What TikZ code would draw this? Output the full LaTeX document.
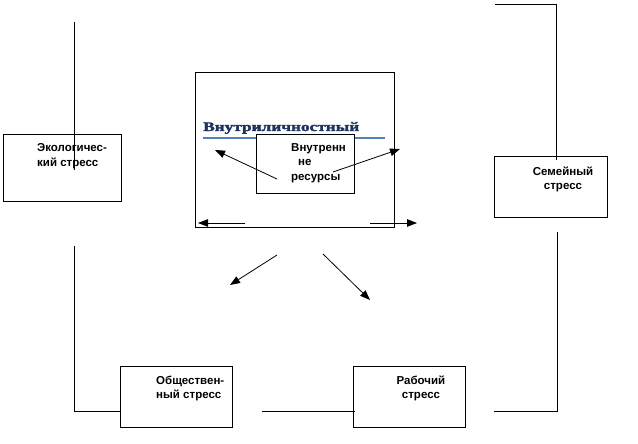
\documentclass[tikz,border=0pt]{standalone}
\usepackage{fontspec}
\setmainfont{Liberation Sans}
\newfontfamily\titlefont[BoldFeatures={FakeBold=2}]{Liberation Serif}
\usetikzlibrary{arrows.meta}
\definecolor{titleblue}{RGB}{30,50,95}
\definecolor{ulblue}{RGB}{79,129,189}
\begin{document}
\begin{tikzpicture}[x=1pt,y=-1pt,
  box/.style={draw=black,line width=0.8pt,fill=white,inner sep=0pt},
  lbl/.style={font=\bfseries\fontsize{11.5}{14.5}\selectfont,inner sep=0pt},
  conn/.style={draw=black,line width=0.8pt},
  arr/.style={draw=black,line width=0.8pt,-{Triangle[length=10pt,width=7.5pt]}}]
\useasboundingbox[fill=white] (0,0) rectangle (638,444);

% main box
\node[box,minimum width=199pt,minimum height=155pt] (main) at (294.5,149.5) {};
\node[anchor=base west,inner sep=0pt,text=titleblue] (title) at (203,131)
  {\titlefont\bfseries\fontsize{13}{15}\selectfont\scalebox{1.33}[1]{Внутриличностный}};
\coordinate (ulA) at (203,138);
\coordinate (ulB) at (385,138);
\draw[draw=ulblue,line width=1.6pt] (ulA) -- (ulB);

% inner box
\node[box,minimum width=98pt,minimum height=59pt] (inner) at (305,163.5) {};
\node[lbl,align=left,anchor=west] (innerlbl) at (291,163) {Внутренн\\\hspace*{7pt}не\\ресурсы};

% side boxes
\node[box,minimum width=118pt,minimum height=67pt] (eco) at (62,167.5) {};
\node[lbl,align=left,anchor=west] (ecolbl) at (37,156) {Экологичес-\\кий стресс};

\node[box,minimum width=113pt,minimum height=61pt] (fam) at (550.5,186.5) {};
\node[lbl,align=center] (famlbl) at (563,179.5) {Семейный\\стресс};

\node[box,minimum width=112pt,minimum height=61pt] (soc) at (176,396.5) {};
\node[lbl,align=left,anchor=west] (soclbl) at (156,388.5) {Обществен-\\ный стресс};

\node[box,minimum width=112pt,minimum height=61pt] (work) at (409,396.5) {};
\node[lbl,align=center] (worklbl) at (421,388.5) {Рабочий\\стресс};

% arrow end points
\coordinate (a1s) at (277,179); \coordinate (a1e) at (215,150);
\coordinate (a2s) at (333,172); \coordinate (a2e) at (400,149);
\coordinate (a3s) at (245,223); \coordinate (a3e) at (198,223);
\coordinate (a4s) at (370,223); \coordinate (a4e) at (417,223);
\coordinate (a5s) at (277,255); \coordinate (a5e) at (230,285);
\coordinate (a6s) at (323,254); \coordinate (a6e) at (370,300);
\draw[arr] (a1s) -- (a1e);
\draw[arr] (a2s) -- (a2e);
\draw[arr] (a3s) -- (a3e);
\draw[arr] (a4s) -- (a4e);
\draw[arr] (a5s) -- (a5e);
\draw[arr] (a6s) -- (a6e);

% lines
\coordinate (l1a) at (74,22); \coordinate (l1b) at (74,170);
\draw[conn] (l1a) -- (l1b);
\coordinate (l2a) at (74,246); \coordinate (l2b) at (74,411); \coordinate (l2c) at (120,411);
\draw[conn] (l2a) -- (l2b) -- (l2c);
\coordinate (l3a) at (262,411); \coordinate (l3b) at (355,411);
\draw[conn] (l3a) -- (l3b);
\coordinate (l4a) at (494,411); \coordinate (l4b) at (557,411); \coordinate (l4c) at (557,232);
\draw[conn] (l4a) -- (l4b) -- (l4c);
\coordinate (l5a) at (495,4); \coordinate (l5b) at (556,4); \coordinate (l5c) at (556,160);
\draw[conn] (l5a) -- (l5b) -- (l5c);
\end{tikzpicture}
\end{document}
